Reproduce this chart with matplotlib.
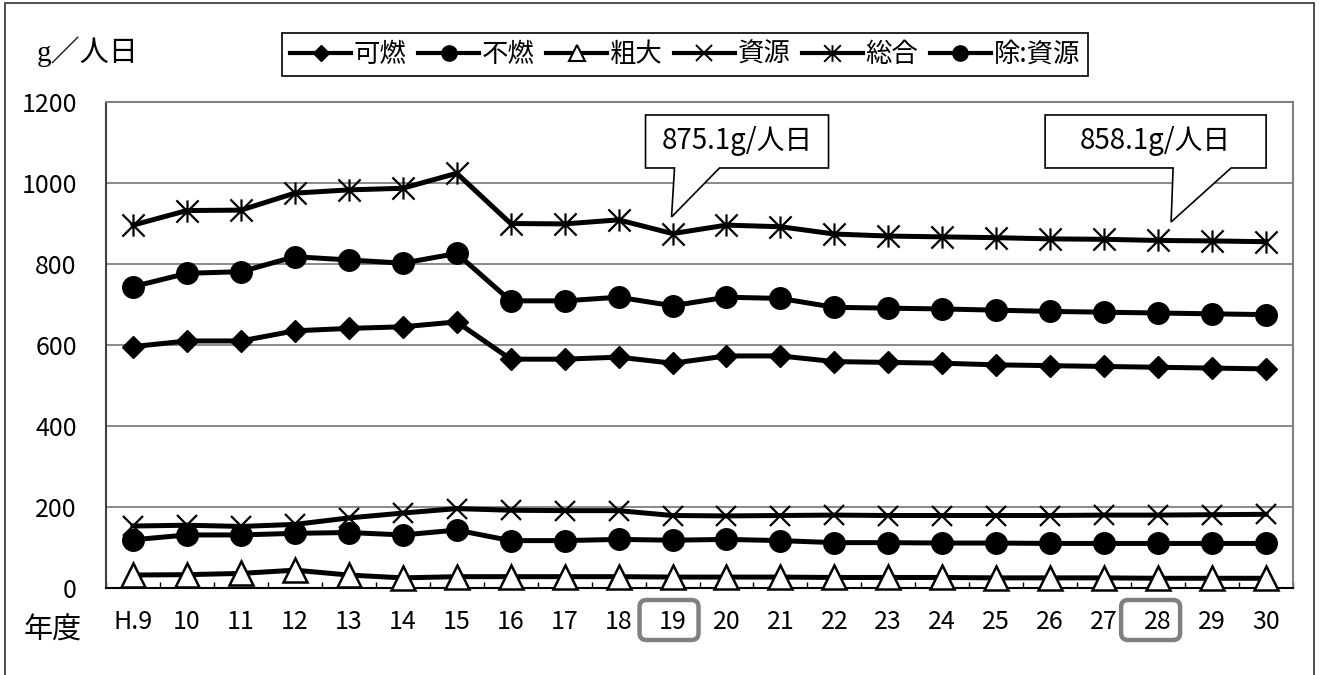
import numpy as np
import matplotlib
matplotlib.use('Agg')
import matplotlib.pyplot as plt
from matplotlib.path import Path
from matplotlib.patches import Polygon, FancyBboxPatch, Rectangle
from matplotlib.transforms import IdentityTransform
from matplotlib.lines import Line2D

plt.rcParams['font.family'] = ['Noto Sans CJK JP', 'DejaVu Sans']

# ---------------- data ----------------
years = ['H.9', '10', '11', '12', '13', '14', '15', '16', '17', '18', '19',
         '20', '21', '22', '23', '24', '25', '26', '27', '28', '29', '30']
kanen = [596, 610, 610, 635, 641, 645, 657, 565, 565, 570, 555,
         573, 573, 559, 557, 555, 551, 549, 547, 545, 543, 541]
funen = [119, 131, 131, 135, 137, 131, 143, 117, 117, 120, 118,
         120, 117, 112, 112, 111, 111, 110, 110, 110, 110, 110]
sodai = [32, 33, 36, 44, 32, 25, 28, 28, 28, 28, 27,
         27, 27, 26, 26, 26, 25, 25, 25, 24, 24, 24]
shigen = [153, 155, 152, 157, 173, 185, 196, 192, 191, 191, 179,
          178, 179, 180, 179, 179, 179, 179, 180, 180, 181, 182]
sogo = [896, 932, 933, 975, 983, 987, 1024, 900, 899, 909, 875.1,
        896, 892, 874, 869, 867, 865, 862, 861, 858.1, 857, 855]
jo_shigen = [744, 777, 781, 818, 810, 802, 826, 709, 709, 718, 697,
             718, 715, 693, 691, 689, 686, 683, 681, 679, 677, 675]
labels = ['可燃', '不燃', '粗大', '資源', '総合', '除:資源']
callouts = [(10, '875.1g/人日'), (19, '858.1g/人日')]
highlight = [10, 19]

W, H = 1323, 675
fig = plt.figure(figsize=(W / 100, H / 100), dpi=100)
ax = fig.add_axes([106 / W, 87 / H, 1187 / W, 486 / H])

x = np.arange(len(years))

ast = Path([(0, -1), (0, 1), (-1, -1), (1, 1), (-1, 1), (1, -1)],
           [Path.MOVETO, Path.LINETO] * 3)

LW = 3.6
styles = [
    dict(marker='D', ms=11, mfc='k', mec='k'),
    dict(marker='o', ms=15.5, mfc='k', mec='k'),
    dict(marker='^', ms=17, mfc='white', mec='k', mew=1.8),
    dict(marker='x', ms=15, mec='k', mew=1.6),
    dict(marker=ast, ms=16, mec='k', mew=1.6),
    dict(marker='o', ms=15.5, mfc='k', mec='k'),
]
series = [kanen, funen, sodai, shigen, sogo, jo_shigen]
for s, st in zip(series, styles):
    ax.plot(x, s, color='k', lw=LW, clip_on=False, zorder=3, **st)

ax.set_xlim(-0.5, len(years) - 0.5)
ax.set_ylim(0, 1200)
ax.set_yticks(range(0, 1201, 200))
ax.yaxis.grid(True, color='#808080', lw=1.3)
ax.set_axisbelow(True)
ax.set_xticks(x)
ax.set_xticklabels(years)
ax.set_xticks(np.arange(-0.5, len(years), 1), minor=True)
ax.tick_params(axis='x', which='major', length=0, pad=15, labelsize=18)
ax.tick_params(axis='x', which='minor', direction='in', length=4.5, width=1, color='k')
ax.tick_params(axis='y', length=0, pad=21, labelsize=18)
ax.spines['left'].set_color('#404040')
ax.spines['bottom'].set_color('k')
for sp in ['top', 'right']:
    ax.spines[sp].set_color('#808080')
for sp in ax.spines.values():
    sp.set_linewidth(1.5)

# legend
handles = []
lstyles = [
    dict(marker='D', ms=8, mfc='k', mec='k'),
    dict(marker='o', ms=11, mfc='k', mec='k'),
    dict(marker='^', ms=11, mfc='white', mec='k', mew=1.5),
    dict(marker='x', ms=11, mec='k', mew=1.4),
    dict(marker=ast, ms=12, mec='k', mew=1.4),
    dict(marker='o', ms=11, mfc='k', mec='k'),
]
for st in lstyles:
    handles.append(Line2D([], [], color='k', lw=3, **st))
leg = fig.legend(handles, labels, loc='center', bbox_to_anchor=(685 / W, 1 - 54.5 / H),
                 ncol=6, frameon=True, fancybox=False, edgecolor='k', framealpha=1,
                 handlelength=2.3, handletextpad=0.1, columnspacing=0.45, borderpad=0.3,
                 prop={'family': ['Noto Sans CJK JP'], 'size': 19})
leg.get_frame().set_linewidth(1.2)

fig.canvas.draw()
ident = IdentityTransform()

# callouts (offsets in pixels, image y downward)
shapes = {
    10: dict(poly=[(-27, -118.6), (156, -118.6), (156, -65.6), (47, -65.6), (-1, -16.6),
                   (2, -65.6), (-27, -65.6)], text=(64.5, -92.1)),
    19: dict(poly=[(-113, -125.5), (108, -125.5), (108, -72.5), (73, -72.5), (13, -18.5),
                   (15, -72.5), (-113, -72.5)], text=(-2.5, -99)),
}
for idx, txt in callouts:
    px, py = ax.transData.transform((idx, sogo[idx]))
    sh = shapes[idx]
    verts = [(px + dx, py - dy) for dx, dy in sh['poly']]
    fig.add_artist(Polygon(verts, closed=True, fc='white', ec='k', lw=1.2,
                           transform=ident, zorder=5))
    tx, ty = sh['text']
    fig.text(px + tx, py - ty, txt, ha='center', va='center', fontsize=20,
             transform=ident, zorder=6)

# highlight boxes around tick labels
hl_off = {10: -33, 19: -37}
for idx in highlight:
    px, _ = ax.transData.transform((idx, 0))
    fig.add_artist(FancyBboxPatch((px + hl_off[idx], H - 640), 59, 40,
                                  boxstyle='round,pad=0,rounding_size=7',
                                  fill=False, ec='#808080', lw=3.2,
                                  transform=ident, zorder=4))

# axis titles
fig.text(37, H - 52, 'g／人日', ha='left', va='center', fontsize=21,
         family=['Liberation Serif', 'Noto Sans CJK JP'], transform=ident)
fig.text(24, H - 631, '年度', ha='left', va='center', fontsize=21,
         family=['Noto Sans CJK JP'], transform=ident)

# outer border
fig.add_artist(Rectangle((5, -10), 1309, H - 3 + 10, fill=False, ec='#404040', lw=1.3,
                         transform=ident, zorder=0))

fig.savefig('out.png', dpi=100)
